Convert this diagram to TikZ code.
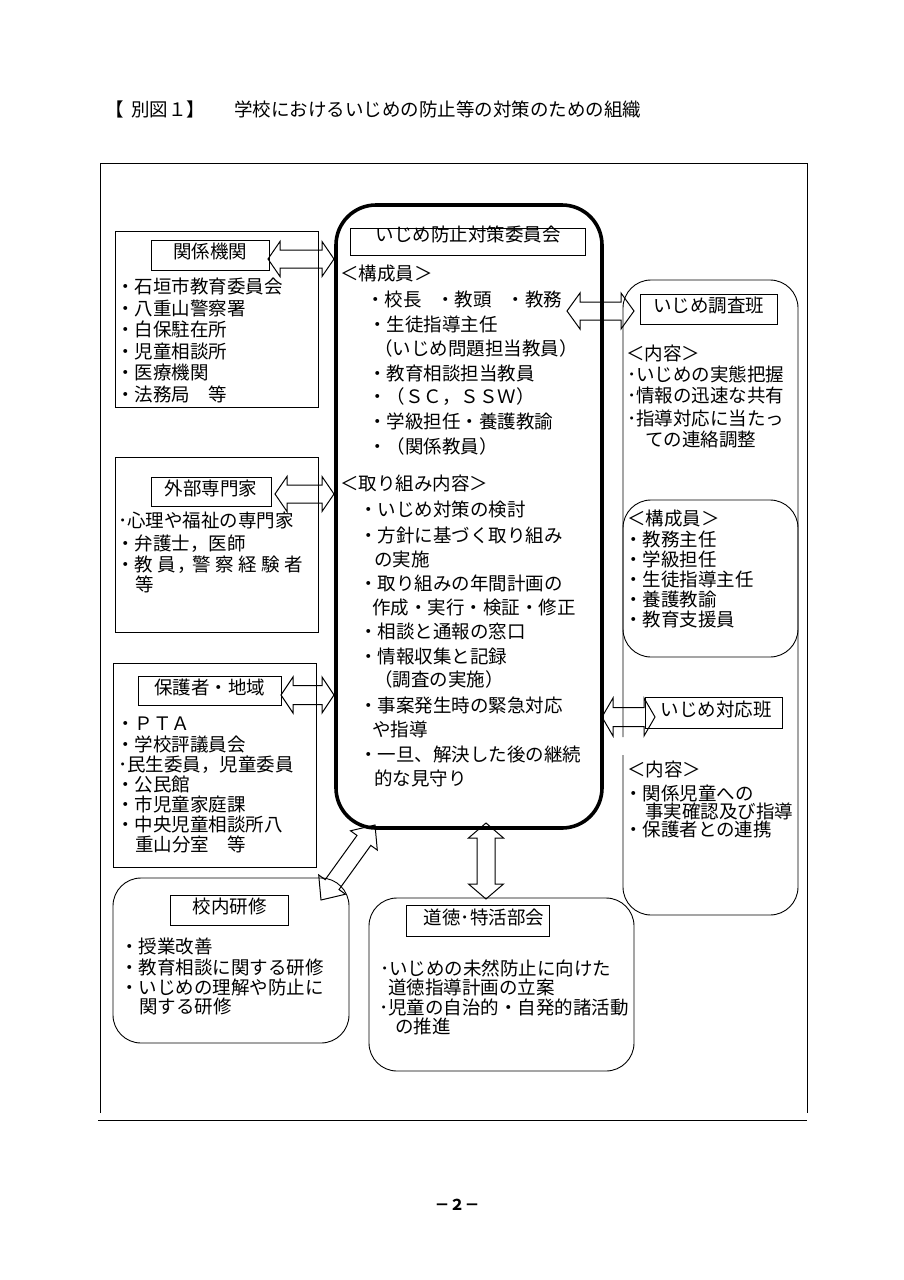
\documentclass[tikz,border=0pt]{standalone}
\usepackage{fontspec}
\setmainfont{Noto Sans CJK JP}
\usetikzlibrary{calc}
\tikzset{
  base/.style={inner sep=0pt, outer sep=0pt},
  jtxt/.style={base, font=\fontsize{18.5}{22}\selectfont, text height=0.88em, text depth=0.12em},
  txt/.style={jtxt, anchor=west},
  sqbox/.style={base, draw, line width=0.9pt},
  rbox/.style={base, draw, line width=0.9pt, rounded corners=28pt},
  hdr/.style={jtxt, draw, line width=0.9pt},
  mainbox/.style={base, draw, line width=3.6pt, rounded corners=40pt},
  frameline/.style={line width=1pt},
  blk/.style={draw, line width=1pt, line join=miter},
}
\newcommand\tlines[2]{\foreach \Lx/\Ly/\Lt [count=\Li] in {#2}{\node[txt] (#1\Li) at (\Lx,\Ly) {\Lt};}}
% double block arrow: #1 tip A, #2 tip B, #3 shaft half width, #4 head half width, #5 head length
\newcommand\dblarrow[5]{%
  \coordinate (ha) at ($(#1)!#5!(#2)$);
  \coordinate (hb) at ($(#2)!#5!(#1)$);
  \draw[blk] (#1) -- ($(ha)!#4!90:(#2)$) -- ($(ha)!#3!90:(#2)$) -- ($(hb)!#3!-90:(#1)$) -- ($(hb)!#4!-90:(#1)$) -- (#2)
    -- ($(hb)!#4!90:(#1)$) -- ($(hb)!#3!90:(#1)$) -- ($(ha)!#3!-90:(#2)$) -- ($(ha)!#4!-90:(#2)$) -- cycle;}
\begin{document}
\begin{tikzpicture}[x=1pt,y=-1pt]
\useasboundingbox (0,0) rectangle (904,1280);

% title
\node[txt] (ttl1) at (105,113) {【\hspace{8pt}別図１】};
\node[txt] (ttl2) at (234,113) {学校におけるいじめの防止等の対策のための組織};

% outer frame
\draw[frameline] (100,1113) -- (100,163) -- (807,163) -- (807,1113);
\draw[frameline] (98,1120) -- (807,1120);

% left box 1
\node[sqbox, minimum width=203pt, minimum height=176pt] (k) at (216.5,319) {};
\node[hdr, minimum width=118pt, minimum height=30pt] (kh) at (210,255) {関係機関};
\tlines{kt}{116/290/{・石垣市教育委員会}, 116/311.5/{・八重山警察署}, 116/333/{・白保駐在所}, 116/354.5/{・児童相談所}, 116/376/{・医療機関}, 116/397.5/{・法務局　等}}

% left box 2
\node[sqbox, minimum width=203pt, minimum height=175pt] (g) at (216.5,544.5) {};
\node[hdr, minimum width=120pt, minimum height=29pt] (gh) at (211,492) {外部専門家};
\tlines{gt}{118/524/{･心理や福祉の専門家}, 116/547/{・弁護士，医師}, 116/568/{・教\hspace{4.5pt}員\hspace{2pt}，\hspace{-4pt}警\hspace{4.5pt}察\hspace{4.5pt}経\hspace{4.5pt}験\hspace{4.5pt}者}, 135/588/{等}}

% left box 3
\node[sqbox, minimum width=203pt, minimum height=204pt] (h) at (214.5,765) {};
\node[hdr, minimum width=143pt, minimum height=29pt] (hh) at (209.5,690.5) {保護者・地域};
\tlines{ht}{116/727/{・ＰＴＡ}, 116/748/{・学校評議員会}, 118/768/{･民生委員，児童委員}, 116/788/{・公民館}, 116/808/{・市児童家庭課}, 116/828/{・中央児童相談所八}, 135/848/{重山分室　等}}

% center box
\node[mainbox, minimum width=266pt, minimum height=623pt] (c) at (469,516.5) {};
\node[base, draw, line width=0.9pt, minimum width=235pt, minimum height=27pt] (ch) at (467.5,241.5) {};
\node[jtxt] (cht) at (468,238) {いじめ防止対策委員会};
\tlines{ct}{340/277/{＜構成員＞}, 366/303/{・校長\hspace{0.8em}・教頭\hspace{0.8em}・教務}, 368/328/{・生徒指導主任}, 374/352/{（いじめ問題担当教員）}, 368/377/{・教育相談担当教員}, 368/400/{・（ＳＣ，ＳＳＷ）}, 368/425/{・学級担任・養護教諭}, 368/450/{・（関係教員）},
 340/487/{＜取り組み内容＞}, 359/513/{・いじめ対策の検討}, 359/539/{・方針に基づく取り組み}, 374/563/{の実施}, 359/587/{・取り組みの年間計画の}, 372/611/{作成・実行・検証・修正}, 359/635/{・相談と通報の窓口}, 359/660/{・情報収集と記録}, 374/683/{（調査の実施）}, 359/709/{・事案発生時の緊急対応}, 372/733/{や指導}, 359/758/{・一旦、解決した後の継続}, 374/782/{的な見守り}}

% right column
\draw[line width=0.9pt, rounded corners=28pt] (623,737) -- (623,280) -- (798,280) -- (798,915) -- (623,915) -- (623,755);
\node[hdr, minimum width=137pt, minimum height=30pt] (r1h) at (708.5,309) {いじめ調査班};
\tlines{r1t}{626/357/{＜内容＞}, 627/378/{･いじめの実態把握}, 627/399/{･情報の迅速な共有}, 627/422/{･指導対応に当たっ}, 645/443/{ての連絡調整}}
\node[rbox, minimum width=175pt, minimum height=157pt] (ri) at (710.5,578.5) {};
\tlines{rit}{627/522/{＜構成員＞}, 624/543/{・教務主任}, 624/563/{・学級担任}, 624/583/{・生徒指導主任}, 624/603/{・養護教諭}, 624/623/{・教育支援員}}
\node[sqbox, minimum width=137pt, minimum height=31pt] (r2h) at (713.5,712.5) {};
\node[jtxt] (r2ht) at (716,713) {いじめ対応班};
\tlines{r2t}{627/773/{＜内容＞}, 624/797/{・関係児童への}, 645/815/{事実確認及び指導}, 624/833/{・保護者との連携}}

% bottom left
\node[rbox, minimum width=236pt, minimum height=165pt] (b) at (231,960.5) {};
\node[hdr, minimum width=118pt, minimum height=30pt] (bh) at (229.5,910) {校内研修};
\tlines{bt}{120/950/{・授業改善}, 120/971/{・教育相談に関する研修}, 120/991/{・いじめの理解や防止に}, 139/1010/{関する研修}}

% bottom center
\node[rbox, minimum width=265pt, minimum height=173pt] (d) at (501.5,984.5) {};
\node[sqbox, minimum width=143pt, minimum height=31pt] (dh) at (477.5,920.5) {};
\node[jtxt] (dht) at (484,921) {道徳･特活部会};
\tlines{dt}{380/972/{･いじめの未然防止に向けた}, 388/991/{道徳指導計画の立案}, 379/1011/{･児童の自治的・自発的諸活動}, 395/1030/{の推進}}

% arrows
\coordinate (a1s) at (268,259); \coordinate (a1e) at (334,259);
\coordinate (a2s) at (275,494); \coordinate (a2e) at (334,494);
\coordinate (a3s) at (281,695); \coordinate (a3e) at (334,695);
\coordinate (a4s) at (567,311); \coordinate (a4e) at (634,311);
\coordinate (a5s) at (602,717); \coordinate (a5e) at (655,717);
\coordinate (a6s) at (486,823); \coordinate (a6e) at (486,899);
\coordinate (a7s) at (321,900); \coordinate (a7e) at (375,825);
\dblarrow{a1s}{a1e}{9pt}{17.5pt}{12pt}
\dblarrow{a2s}{a2e}{9pt}{17.5pt}{12pt}
\dblarrow{a3s}{a3e}{9.5pt}{18pt}{12pt}
\dblarrow{a4s}{a4e}{9pt}{18pt}{13pt}
\dblarrow{a5s}{a5e}{9.5pt}{19pt}{11pt}
\dblarrow{a6s}{a6e}{9pt}{17.5pt}{15pt}
\dblarrow{a7s}{a7e}{8.5pt}{16.5pt}{19pt}

% page number
\node[base, font=\fontsize{15}{18}\selectfont\bfseries] (pg) at (457,1205) {－２－};
\end{tikzpicture}
\end{document}
